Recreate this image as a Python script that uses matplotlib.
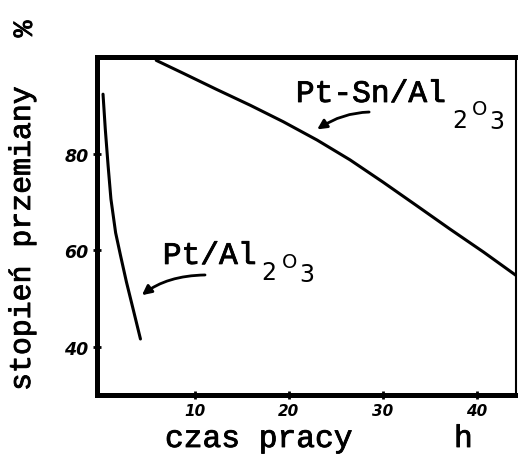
# conversion vs. time on stream for Pt and Pt-Sn on alumina
import matplotlib
matplotlib.use('Agg')
import matplotlib.pyplot as plt
import matplotlib.patheffects as pe

# Pt-Sn/Al2O3 catalyst
pt_sn_t = [5.9, 8.8, 12.3, 15.9, 19.4, 23.0, 26.5, 30.0, 33.6, 37.1, 40.7, 44.2]
pt_sn_conv = [99.3, 96.6, 93.3, 90.0, 86.6, 82.8, 78.7, 74.1, 69.2, 64.4, 59.6, 54.7]

# Pt/Al2O3 catalyst
pt_t = [0.24, 0.48, 0.78, 1.08, 1.58, 2.10, 2.73, 3.44, 4.22]
pt_conv = [92.3, 85.1, 77.5, 70.6, 63.6, 58.9, 53.4, 47.8, 41.6]

xticks = [10, 20, 30, 40]
yticks = [40, 60, 80]

W, H = 518, 460
mono = 'Liberation Mono'
# typewriter ink: regular glyphs with a thin outline
ink = [pe.withStroke(linewidth=0.6, foreground='black')]

fig = plt.figure(figsize=(W / 100, H / 100), dpi=100)
ax = fig.add_axes([97 / W, 1 - 396 / H, (516 - 97) / W, (396 - 58) / H])

ax.plot(pt_sn_t, pt_sn_conv, color='black', lw=2.2, solid_capstyle='round')
ax.plot(pt_t, pt_conv, color='black', lw=2.2, solid_capstyle='round')

ax.set_xlim(-0.4, 44.15)
ax.set_ylim(30, 100)
ax.set_xticks(xticks)
ax.set_yticks(yticks)
ax.set_xticklabels([str(v) for v in xticks], fontsize=11, fontweight='bold',
                   fontstyle='italic')
ax.set_yticklabels([str(v) for v in yticks], fontsize=12.5, fontweight='bold',
                   fontstyle='italic')
ax.tick_params(direction='inout', length=6, width=2, pad=3)

for side in ['left', 'top', 'bottom']:
    ax.spines[side].set_linewidth(3.6)
ax.spines['right'].set_linewidth(1.5)


def px(x, y):
    # pixel position -> data coordinates
    return (x - 101) / 9.4, 100 - (y - 58) / 4.83


# labels with sub/superscript pieces
def formula(main, x0, base, subs):
    ax.text(*px(x0, base), main, family=mono, fontsize=22.5, va='baseline',
            path_effects=ink)
    for s, sx, sy, fs in subs:
        ax.text(*px(sx, sy), s, family='DejaVu Sans', fontsize=fs,
                va='baseline')


formula('Pt-Sn/Al', 296, 103, [('2', 452, 128, 17), ('O', 472, 115, 14),
                               ('3', 489, 129, 17)])
formula('Pt/Al', 163, 265, [('2', 261, 280, 17), ('O', 282, 268, 14),
                            ('3', 299, 282, 17)])

arrow = dict(arrowstyle='-|>', color='black', lw=2.0, mutation_scale=14)
ax.annotate('', xy=px(315, 132), xytext=px(372, 113),
            arrowprops=dict(arrow, connectionstyle='angle3,angleA=0,angleB=35'))
ax.annotate('', xy=px(140, 298), xytext=px(208, 276),
            arrowprops=dict(arrow, connectionstyle='angle3,angleA=0,angleB=40'))

# axis titles
fig.text(22 / W, 1 - 240 / H, 'stopień przemiany', family=mono, fontsize=21.5,
         rotation=90, ha='center', va='center', path_effects=ink)
fig.text(25 / W, 1 - 30 / H, '%', family=mono, fontsize=20, rotation=90,
         ha='center', va='center', path_effects=ink)
fig.text(165 / W, 1 - 448 / H, 'czas pracy', family=mono, fontsize=22.5,
         va='baseline', path_effects=ink)
fig.text(454 / W, 1 - 448 / H, 'h', family=mono, fontsize=22.5,
         va='baseline', path_effects=ink)

fig.savefig('out.png', dpi=100)
